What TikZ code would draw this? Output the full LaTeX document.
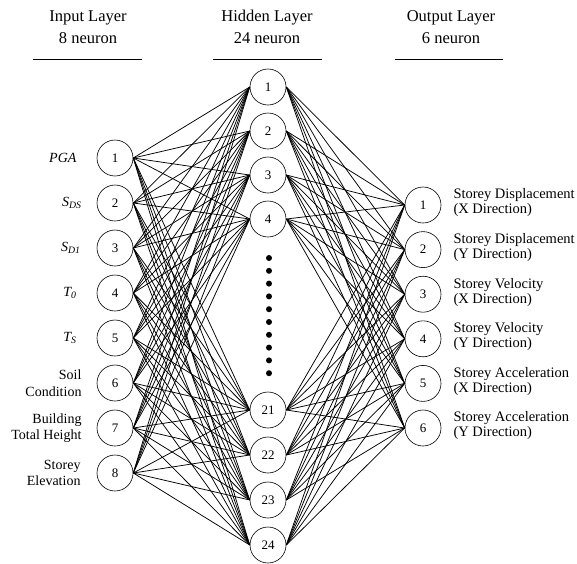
\documentclass[tikz,border=0pt]{standalone}
\usepackage{fontspec}
\setmainfont{Liberation Serif}
\usetikzlibrary{positioning}
\begin{document}
\begin{tikzpicture}[x=1pt,y=-1pt,
    neuron/.style={draw,circle,fill=white,minimum size=36pt,inner sep=0pt,line width=0.6pt,font=\fontsize{13}{13}\selectfont},
    head/.style={anchor=base,font=\fontsize{16.5}{20}\selectfont},
    inlab/.style={align=right,inner sep=0pt,font=\fontsize{14}{16.5}\selectfont},
    outlab/.style={align=left,inner sep=0pt,font=\fontsize{14.5}{15}\selectfont},
    wire/.style={line width=0.75pt}]
    \useasboundingbox (0,0) rectangle (577,563);

    % layer titles
    \node[head] (tin)  at (88,21)  {Input Layer};
    \node[head] (nin)  at (88,43)  {8 neuron};
    \node[head] (thid) at (267,21) {Hidden Layer};
    \node[head] (nhid) at (267,43) {24 neuron};
    \node[head] (tout) at (451,21) {Output Layer};
    \node[head] (nout) at (451,43) {6 neuron};
    \draw[line width=0.8pt] (33,59) -- (142,59);
    \draw[line width=0.8pt] (213,59) -- (322,59);
    \draw[line width=0.8pt] (395,59) -- (503,59);

    % input layer
    \foreach \i/\lab/\gap in {1/{\textit{PGA}}/20, 2/{\textit{S\textsubscript{DS}}}/15,
        3/{\textit{S\textsubscript{D1}}}/16, 4/{\textit{T\textsubscript{0}}}/20,
        5/{\textit{T\textsubscript{S}}}/20, 6/{Soil\\Condition}/15,
        7/{Building\\Total Height}/15, 8/{Storey\\Elevation}/16}
    {
        \node[neuron] (i\i) at (115,{158+45*(\i-1)}) {\i};
        \node[inlab,left=\gap pt of i\i] (li\i) {\lab};
    }

    % hidden layer
    \foreach \h/\y in {1/87,2/131,3/175,4/219,21/410,22/455,23/500,24/545}
        \node[neuron] (h\h) at (268,\y) {\h};
    \foreach \k in {0,...,9}
        \fill (269,{258+12.8*\k}) circle (3pt);

    % output layer
    \foreach \o/\a/\b in {1/Storey Displacement/(X Direction), 2/Storey Displacement/(Y Direction),
        3/Storey Velocity/(X Direction), 4/Storey Velocity/(Y Direction),
        5/Storey Acceleration/(X Direction), 6/Storey Acceleration/(Y Direction)}
    {
        \node[neuron] (o\o) at (423,{205+44.6*(\o-1)}) {\o};
        \node[outlab,right=12pt of o\o,yshift=2pt] (lo\o) {\a\\\b};
    }

    % connections
    \foreach \i in {1,...,8}
        \foreach \h in {1,2,3,4,21,22,23,24}
            \draw[wire] (i\i.east) -- (h\h.west);
    \foreach \h in {1,2,3,4,21,22,23,24}
        \foreach \o in {1,...,6}
            \draw[wire] (h\h.east) -- (o\o.west);
\end{tikzpicture}
\end{document}
